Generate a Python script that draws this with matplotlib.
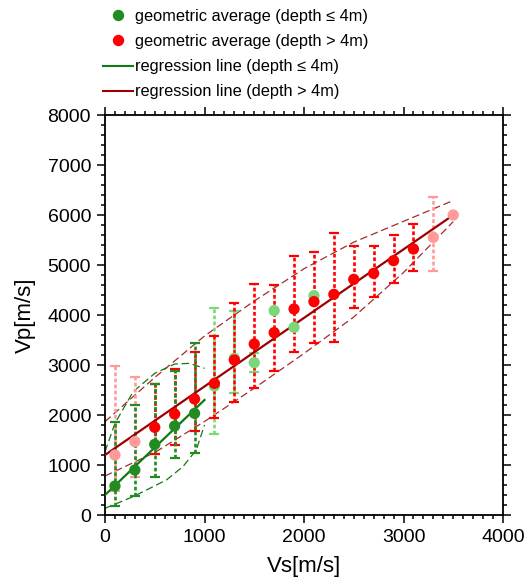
import numpy as np
import matplotlib
matplotlib.use('Agg')
import matplotlib.pyplot as plt
from matplotlib.lines import Line2D
from matplotlib.ticker import MultipleLocator

plt.rcParams['font.family'] = ['Liberation Sans', 'DejaVu Sans']

# geometric averages, depth > 4m
vs_deep = [100, 300, 500, 700, 900, 1100, 1300, 1500, 1700, 1900,
           2100, 2300, 2500, 2700, 2900, 3100, 3300, 3500]
vp_deep = [1200, 1467, 1753, 2020, 2320, 2633, 3100, 3420, 3647, 4120,
           4267, 4413, 4713, 4833, 5087, 5320, 5553, 6000]
vp_deep_hi = [2987, 2767, 2613, 2920, 3267, 3580, 4247, 4613, 4600, 5180,
              5267, 5647, 5380, 5387, 5600, 5820, 6367, np.nan]
vp_deep_lo = [480, 767, 1213, 1400, 1687, 1947, 2267, 2547, 2887, 3267,
              3447, 3453, 4147, 4367, 4633, 4887, 4880, np.nan]

# geometric averages, depth <= 4m
vs_shal = [100, 300, 500, 700, 900, 1100, 1300, 1500, 1700, 1900, 2100]
vp_shal = [580, 900, 1413, 1780, 2033, 2580, 3133, 3047, 4087, 3753, 4387]
vp_shal_hi = [1867, 2200, 2613, 2880, 3433, 4147, 4087, 3247, np.nan, np.nan, np.nan]
vp_shal_lo = [187, 380, 767, 1133, 1247, 1613, 2433, 2860, np.nan, np.nan, np.nan]

# regression lines  Vp = a * Vs + b
reg_deep = (1.371, 1200)
reg_deep_vs = [0, 3500]
reg_shal = (1.9, 400)
reg_shal_vs = [0, 1000]

# dashed envelopes
band_deep_vs = [0, 500, 1000, 1500, 2000, 2500, 3000, 3500]
band_deep_hi = [1867, 2750, 3580, 4280, 4925, 5457, 5873, 6290]
band_deep_lo = [780, 1250, 1870, 2536, 3231, 3960, 4850, 5867]
band_shal_hi_vs = [0, 100, 283, 500, 700, 850, 1000]
band_shal_hi = [1267, 1833, 2467, 2833, 3020, 3033, 2933]
band_shal_lo_vs = [0, 283, 617, 783, 917, 1000]
band_shal_lo = [133, 367, 700, 967, 1300, 1800]

RED, PINK = '#ff0000', '#ff9a9a'
GREEN, LGREEN = '#228b22', '#7ad77a'
DRED, DGREEN = '#9c0000', '#0f7a0f'


def draw_bars(ax, x, y, lo, hi, color, z):
    y, lo, hi = np.asarray(y, float), np.asarray(lo, float), np.asarray(hi, float)
    ok = ~np.isnan(hi)
    if not ok.any():
        return
    x = np.asarray(x, float)[ok]
    eb = ax.errorbar(x, y[ok], yerr=[y[ok] - lo[ok], hi[ok] - y[ok]], fmt='none',
                     ecolor=color, elinewidth=1.9, capsize=3.5, capthick=1.6, zorder=z)
    eb[2][0].set_linestyle((0, (1.4, 0.9)))


fig = plt.figure(figsize=(5.28, 5.82), dpi=100)
ax = fig.add_axes([105 / 528, 1 - 515 / 582, 398 / 528, 400 / 582])

# envelopes
ax.plot(band_deep_vs, band_deep_hi, color='#a52a2a', lw=0.9, ls=(0, (6, 3)), zorder=1)
ax.plot(band_deep_vs, band_deep_lo, color='#a52a2a', lw=0.9, ls=(0, (6, 3)), zorder=1)
ax.plot(band_shal_hi_vs, band_shal_hi, color=DGREEN, lw=0.9, ls=(0, (6, 3)), zorder=1)
ax.plot(band_shal_lo_vs, band_shal_lo, color=DGREEN, lw=0.9, ls=(0, (6, 3)), zorder=1)

# error bars
shal_faint = [v > 1000 for v in vs_shal]
deep_faint = [v < 400 or v > 3200 for v in vs_deep]
for i in range(len(vs_shal)):
    if shal_faint[i]:
        draw_bars(ax, [vs_shal[i]], [vp_shal[i]], [vp_shal_lo[i]], [vp_shal_hi[i]], LGREEN, 2)
for i in range(len(vs_deep)):
    c = PINK if deep_faint[i] else RED
    draw_bars(ax, [vs_deep[i]], [vp_deep[i]], [vp_deep_lo[i]], [vp_deep_hi[i]], c, 3)
for i in range(len(vs_shal)):
    if not shal_faint[i]:
        draw_bars(ax, [vs_shal[i]], [vp_shal[i]], [vp_shal_lo[i]], [vp_shal_hi[i]], GREEN, 3)

# regression lines
xd = np.array(reg_deep_vs)
ax.plot(xd, reg_deep[0] * xd + reg_deep[1], color=DRED, lw=1.6, zorder=4)
xs = np.array(reg_shal_vs)
ax.plot(xs, reg_shal[0] * xs + reg_shal[1], color=DGREEN, lw=1.6, zorder=4)

# points
ax.scatter(vs_shal, vp_shal, s=66, c=[LGREEN if f else GREEN for f in shal_faint],
           linewidths=0, zorder=5)
ax.scatter(vs_deep, vp_deep, s=66, c=[PINK if f else RED for f in deep_faint],
           linewidths=0, zorder=6)

ax.set_xlim(0, 4000)
ax.set_ylim(0, 8000)
ax.xaxis.set_major_locator(MultipleLocator(1000))
ax.xaxis.set_minor_locator(MultipleLocator(100))
ax.yaxis.set_major_locator(MultipleLocator(1000))
ax.yaxis.set_minor_locator(MultipleLocator(200))
ax.tick_params(which='both', direction='out', top=True, right=True, width=1.1)
ax.tick_params(which='major', length=6, labelsize=14, pad=4)
ax.tick_params(which='minor', length=3)
for s in ax.spines.values():
    s.set_linewidth(1.3)
ax.set_xlabel('Vs[m/s]', fontsize=16, labelpad=7)
ax.set_ylabel('Vp[m/s]', fontsize=16, labelpad=8)

handles = [
    Line2D([], [], ls='none', marker='o', ms=8.2, color=GREEN, mec='none'),
    Line2D([], [], ls='none', marker='o', ms=8.2, color=RED, mec='none'),
    Line2D([], [], color=DGREEN, lw=1.5),
    Line2D([], [], color=DRED, lw=1.5),
]
labels = ['geometric average (depth ≤ 4m)', 'geometric average (depth > 4m)',
          'regression line (depth ≤ 4m)', 'regression line (depth > 4m)']
fig.legend(handles, labels, loc='upper left', bbox_to_anchor=(103 / 528, 1 - 9 / 582),
           frameon=False, fontsize=11.8, handlelength=1.85, handletextpad=0.1,
           labelspacing=0.62, borderpad=0, borderaxespad=0)

fig.savefig('out.png', dpi=100)
